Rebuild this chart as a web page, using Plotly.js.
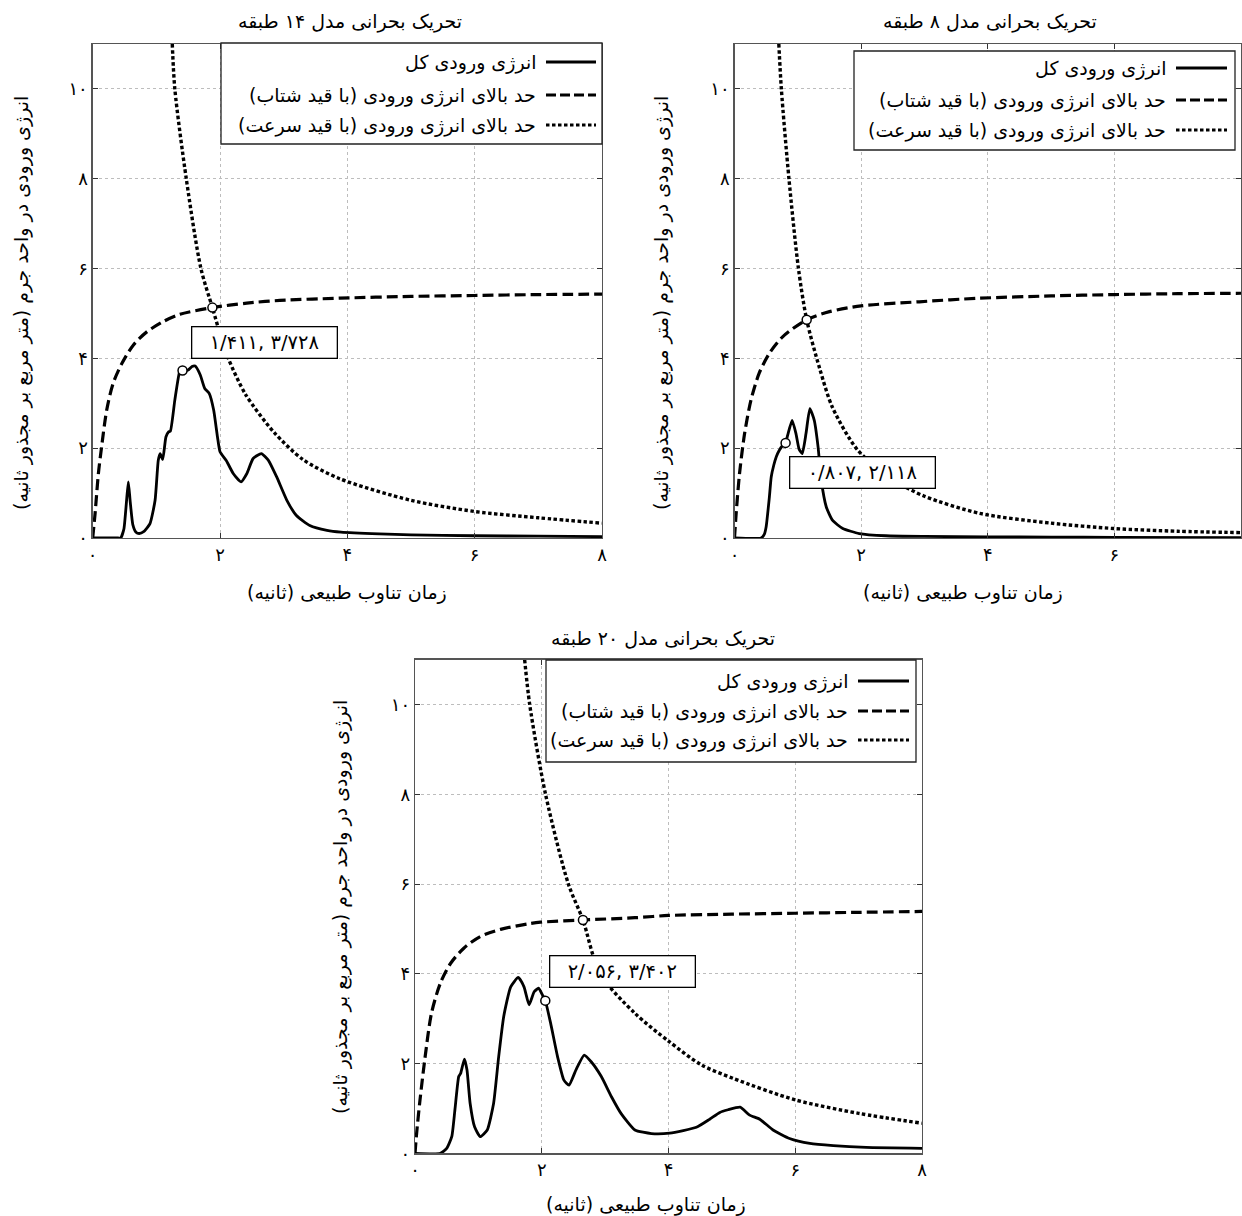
<!DOCTYPE html>
<html>
<head>
<meta charset="utf-8">
<script src="https://cdn.plot.ly/plotly-3.0.1.min.js"></script>
<style>html,body{margin:0;padding:0;background:#fff}#chart{width:1242px;height:1216px}</style>
</head>
<body>
<div id="chart"></div>
<script>
// ---------------- DATA ----------------
const xTickVals = [0, 2, 4, 6, 8];
const xTickText = ['۰', '۲', '۴', '۶', '۸'];
const yTickVals = [0, 2, 4, 6, 8, 10];
const yTickText = ['۰', '۲', '۴', '۶', '۸', '۱۰'];

const panelTitles = ['تحریک بحرانی مدل ۱۴ طبقه', 'تحریک بحرانی مدل ۸ طبقه', 'تحریک بحرانی مدل ۲۰ طبقه'];
const seriesNames = ['انرژی ورودی کل', 'حد بالای انرژی ورودی (با قید شتاب)', 'حد بالای انرژی ورودی (با قید سرعت)'];
const xTitle = 'زمان تناوب طبیعی (ثانیه)';
const yTitle = 'انرژی ورودی در واحد جرم (متر مربع بر مجذور ثانیه)';

// 14-story model
const t14Total = [0, 0.40, 0.44, 0.49, 0.53, 0.56, 0.59, 0.63, 0.68, 0.73, 0.80, 0.90, 0.98, 1.03, 1.06, 1.10, 1.15, 1.19, 1.22, 1.29, 1.36, 1.40, 1.45, 1.50, 1.56, 1.61, 1.69, 1.76, 1.83, 1.90, 1.96, 2.00, 2.10, 2.21, 2.33, 2.42, 2.52, 2.65, 2.76, 2.89, 3.05, 3.20, 3.41, 3.68, 3.90, 4.5, 5, 6, 7, 8];
const e14Total = [0, 0, 0.0, 0.2, 0.8, 1.25, 0.8, 0.3, 0.13, 0.10, 0.14, 0.32, 0.84, 1.73, 1.88, 1.75, 2.25, 2.36, 2.38, 3.07, 3.67, 3.76, 3.73, 3.74, 3.82, 3.83, 3.63, 3.33, 3.22, 2.85, 2.25, 1.92, 1.72, 1.43, 1.25, 1.43, 1.77, 1.88, 1.73, 1.36, 0.84, 0.50, 0.28, 0.17, 0.13, 0.09, 0.07, 0.05, 0.04, 0.03];
const t14Acc = [0, 0.037, 0.089, 0.14, 0.22, 0.32, 0.46, 0.64, 0.85, 1.11, 1.37, 1.88, 2.42, 2.94, 3.88, 5, 6, 7, 8];
const e14Acc = [0, 0.54, 1.43, 2.03, 2.85, 3.44, 3.89, 4.30, 4.59, 4.82, 4.98, 5.13, 5.23, 5.29, 5.34, 5.38, 5.40, 5.42, 5.43];
const t14Vel = [1.25, 1.29, 1.47, 1.70, 1.88, 2.0, 2.13, 2.4, 2.85, 3.3, 3.88, 5, 6, 7, 8];
const e14Vel = [11, 10, 8, 6, 5.13, 4.55, 4.0, 3.2, 2.35, 1.75, 1.32, 0.84, 0.59, 0.45, 0.33];
const tip14 = [1.411, 3.728];
const cross14 = [1.88, 5.13];
const tip14Text = '۱/۴۱۱, ۳/۷۲۸';

// 8-story model
const t8Total = [0, 0.42, 0.47, 0.50, 0.55, 0.58, 0.62, 0.66, 0.71, 0.76, 0.807, 0.84, 0.91, 0.97, 1.02, 1.07, 1.13, 1.19, 1.26, 1.32, 1.37, 1.45, 1.55, 1.71, 1.97, 2.39, 3, 4, 5, 6, 8];
const e8Total = [0, 0, 0.08, 0.25, 0.9, 1.36, 1.62, 1.81, 1.96, 2.06, 2.118, 2.29, 2.62, 2.33, 1.98, 1.88, 2.33, 2.88, 2.62, 2.03, 1.29, 0.69, 0.39, 0.21, 0.10, 0.05, 0.035, 0.025, 0.02, 0.015, 0.01];
const t8Acc = [0, 0.026, 0.079, 0.16, 0.26, 0.39, 0.55, 0.76, 1.14, 1.5, 2.0, 2.92, 3.87, 5, 6, 7, 8];
const e8Acc = [0, 0.54, 1.43, 2.33, 3.07, 3.67, 4.11, 4.48, 4.86, 5.04, 5.17, 5.26, 5.34, 5.39, 5.42, 5.44, 5.45];
const t8Vel = [0.70, 0.74, 0.86, 1.01, 1.14, 1.34, 1.55, 1.95, 2.5, 3, 3.87, 5, 6, 7, 8];
const e8Vel = [11, 10, 8, 6, 4.86, 3.8, 2.9, 1.95, 1.3, 0.93, 0.55, 0.33, 0.21, 0.15, 0.12];
const tip8 = [0.807, 2.118];
const cross8 = [1.14, 4.86];
const tip8Text = '۰/۸۰۷, ۲/۱۱۸';

// 20-story model
const t20Total = [0, 0.40, 0.50, 0.58, 0.63, 0.69, 0.72, 0.78, 0.82, 0.87, 0.94, 1.03, 1.14, 1.24, 1.32, 1.40, 1.51, 1.63, 1.72, 1.80, 1.88, 1.95, 2.01, 2.056, 2.14, 2.25, 2.35, 2.43, 2.54, 2.67, 2.78, 2.94, 3.10, 3.25, 3.47, 3.73, 4.02, 4.44, 4.65, 4.81, 4.94, 5.13, 5.28, 5.44, 5.65, 5.91, 6.23, 6.60, 7.12, 8.0];
const e20Total = [0, 0, 0.11, 0.37, 0.97, 1.71, 1.78, 2.10, 1.86, 1.11, 0.59, 0.37, 0.52, 1.11, 2.15, 3.05, 3.71, 3.92, 3.71, 3.31, 3.60, 3.68, 3.53, 3.402, 2.90, 2.15, 1.63, 1.52, 1.86, 2.19, 2.04, 1.71, 1.26, 0.89, 0.52, 0.44, 0.45, 0.58, 0.76, 0.91, 0.97, 1.03, 0.85, 0.76, 0.52, 0.33, 0.22, 0.17, 0.13, 0.11];
const t20Acc = [0, 0.026, 0.079, 0.16, 0.26, 0.40, 0.56, 0.77, 1.03, 1.35, 1.77, 1.98, 2.65, 3.47, 4.0, 5, 6, 7, 8];
const e20Acc = [0, 0.45, 1.19, 2.15, 3.12, 3.79, 4.23, 4.57, 4.83, 4.99, 5.11, 5.15, 5.20, 5.25, 5.30, 5.33, 5.35, 5.37, 5.39];
const t20Vel = [1.73, 1.81, 2.06, 2.42, 2.65, 2.92, 3.47, 4.0, 4.52, 5.02, 6, 7, 8];
const e20Vel = [11, 10, 8, 6, 5.20, 4.0, 3.12, 2.5, 1.97, 1.67, 1.19, 0.89, 0.67];
const tip20 = [2.056, 3.402];
const cross20 = [2.65, 5.20];
const tip20Text = '۲/۰۵۶, ۳/۴۰۲';

// ---------------- STYLE / LAYOUT ----------------
const W = 1242, H = 1216;
const FONT = 'DejaVu Sans';
const RLM = '\u200F';
const px = v => v / W;
const py = v => 1 - v / H;

const solidLine = {color: '#000', width: 2.8, shape: 'spline', smoothing: 0.5};
const dashLine = {color: '#000', width: 3.2, dash: '11px,5px', shape: 'spline', smoothing: 0.8};
const dotLine = {color: '#000', width: 3.4, dash: '3.5px,2.5px', shape: 'spline', smoothing: 0.8};

const panels = [
  {xa: 'x', ya: 'y', tT: t14Total, eT: e14Total, tA: t14Acc, eA: e14Acc, tV: t14Vel, eV: e14Vel, tip: tip14, cross: cross14, tipText: tip14Text, shift: [82, 28]},
  {xa: 'x2', ya: 'y2', tT: t8Total, eT: e8Total, tA: t8Acc, eA: e8Acc, tV: t8Vel, eV: e8Vel, tip: tip8, cross: cross8, tipText: tip8Text, shift: [77, -30]},
  {xa: 'x3', ya: 'y3', tT: t20Total, eT: e20Total, tA: t20Acc, eA: e20Acc, tV: t20Vel, eV: e20Vel, tip: tip20, cross: cross20, tipText: tip20Text, shift: [77, 29]}
];

const traces = [];
const annotations = [];
panels.forEach(p => {
  traces.push({x: p.tT, y: p.eT, xaxis: p.xa, yaxis: p.ya, mode: 'lines', line: solidLine, name: seriesNames[0], showlegend: false});
  traces.push({x: p.tA, y: p.eA, xaxis: p.xa, yaxis: p.ya, mode: 'lines', line: dashLine, name: seriesNames[1], showlegend: false});
  traces.push({x: p.tV, y: p.eV, xaxis: p.xa, yaxis: p.ya, mode: 'lines', line: dotLine, name: seriesNames[2], showlegend: false});
  traces.push({x: [p.tip[0], p.cross[0]], y: [p.tip[1], p.cross[1]], xaxis: p.xa, yaxis: p.ya, mode: 'markers',
    marker: {symbol: 'circle', size: 9, color: '#fff', line: {color: '#000', width: 1.5}}, showlegend: false, hoverinfo: 'skip'});
  annotations.push({xref: p.xa, yref: p.ya, x: p.tip[0], y: p.tip[1], text: p.tipText, showarrow: false,
    xshift: p.shift[0], yshift: p.shift[1], xanchor: 'center', yanchor: 'middle',
    font: {family: FONT, size: 19.5, color: '#000'}, bgcolor: '#fff', bordercolor: '#000', borderwidth: 1.3,
    width: 136, height: 22, borderpad: 4});
});

function axis(domain, range, vals, txt, anchor) {
  return {domain: domain, range: range, anchor: anchor, tickmode: 'array', tickvals: vals, ticktext: txt,
    ticks: 'inside', ticklen: 5, tickwidth: 1, tickcolor: '#333', showline: true, mirror: 'ticks',
    linecolor: '#555', linewidth: 1.3, showgrid: true, gridcolor: '#bdbdbd', griddash: 'dot', gridwidth: 1,
    zeroline: false, fixedrange: true, tickfont: {family: FONT, size: 18, color: '#000'}};
}

const yTop = [py(538), py(44)];
const yBot = [py(1153.3), py(659.7)];
const layout = {
  width: W, height: H, margin: {l: 0, r: 0, t: 0, b: 0},
  paper_bgcolor: '#fff', plot_bgcolor: '#fff', showlegend: false,
  font: {family: FONT, color: '#000'},
  xaxis: axis([px(92.7), px(602)], [0, 8], xTickVals, xTickText, 'y'),
  yaxis: axis(yTop, [0, 11], yTickVals, yTickText, 'x'),
  xaxis2: axis([px(734.5), px(1241)], [0, 8], xTickVals, xTickText, 'y2'),
  yaxis2: axis(yTop, [0, 11], yTickVals, yTickText, 'x2'),
  xaxis3: axis([px(415), px(922)], [0, 8], xTickVals, xTickText, 'y3'),
  yaxis3: axis(yBot, [0, 11], yTickVals, yTickText, 'x3'),
  shapes: [],
  annotations: annotations
};

// titles and axis titles
const titlePos = [[350, 21], [990, 21], [663, 639]];
const xTitlePos = [[347, 592], [963, 592], [646, 1204]];
const yTitlePos = [[21, 303], [661, 303], [340, 907]];
for (let i = 0; i < 3; i++) {
  annotations.push({xref: 'paper', yref: 'paper', x: px(titlePos[i][0]), y: py(titlePos[i][1]), text: panelTitles[i],
    showarrow: false, xanchor: 'center', yanchor: 'middle', font: {family: FONT, size: 19, color: '#000'}});
  annotations.push({xref: 'paper', yref: 'paper', x: px(xTitlePos[i][0]), y: py(xTitlePos[i][1]), text: xTitle + RLM,
    showarrow: false, xanchor: 'center', yanchor: 'middle', font: {family: FONT, size: 19, color: '#000'}});
  annotations.push({xref: 'paper', yref: 'paper', x: px(yTitlePos[i][0]), y: py(yTitlePos[i][1]), text: yTitle + RLM,
    textangle: -90, showarrow: false, xanchor: 'center', yanchor: 'middle', font: {family: FONT, size: 19, color: '#000'}});
}

// manual right-to-left legends
const legends = [
  {box: [221, 43, 602, 144], textRight: 538, ys: [62, 95, 125], sx: [546, 596]},
  {box: [854, 51, 1235, 150], textRight: 1168, ys: [68, 100, 130], sx: [1176, 1227]},
  {box: [546, 660, 916, 762], textRight: 850, ys: [681, 711, 740], sx: [858, 909]}
];
const sampleDash = ['solid', '10px,4px', '3.5px,2.5px'];
legends.forEach(L => {
  layout.shapes.push({type: 'rect', xref: 'paper', yref: 'paper', x0: px(L.box[0]), x1: px(L.box[2]), y0: py(L.box[3]), y1: py(L.box[1]),
    line: {color: '#222', width: 1.3}, fillcolor: '#fff', layer: 'above'});
  for (let k = 0; k < 3; k++) {
    layout.shapes.push({type: 'line', xref: 'paper', yref: 'paper', x0: px(L.sx[0]), x1: px(L.sx[1]), y0: py(L.ys[k]), y1: py(L.ys[k]),
      line: {color: '#000', width: 3.2, dash: sampleDash[k]}, layer: 'above'});
    annotations.push({xref: 'paper', yref: 'paper', x: px(L.textRight), y: py(L.ys[k]), text: seriesNames[k] + RLM,
      showarrow: false, xanchor: 'right', yanchor: 'middle', font: {family: FONT, size: 19, color: '#000'}});
  }
});

Plotly.newPlot('chart', traces, layout, {displayModeBar: false, staticPlot: true});
</script>
</body>
</html>
